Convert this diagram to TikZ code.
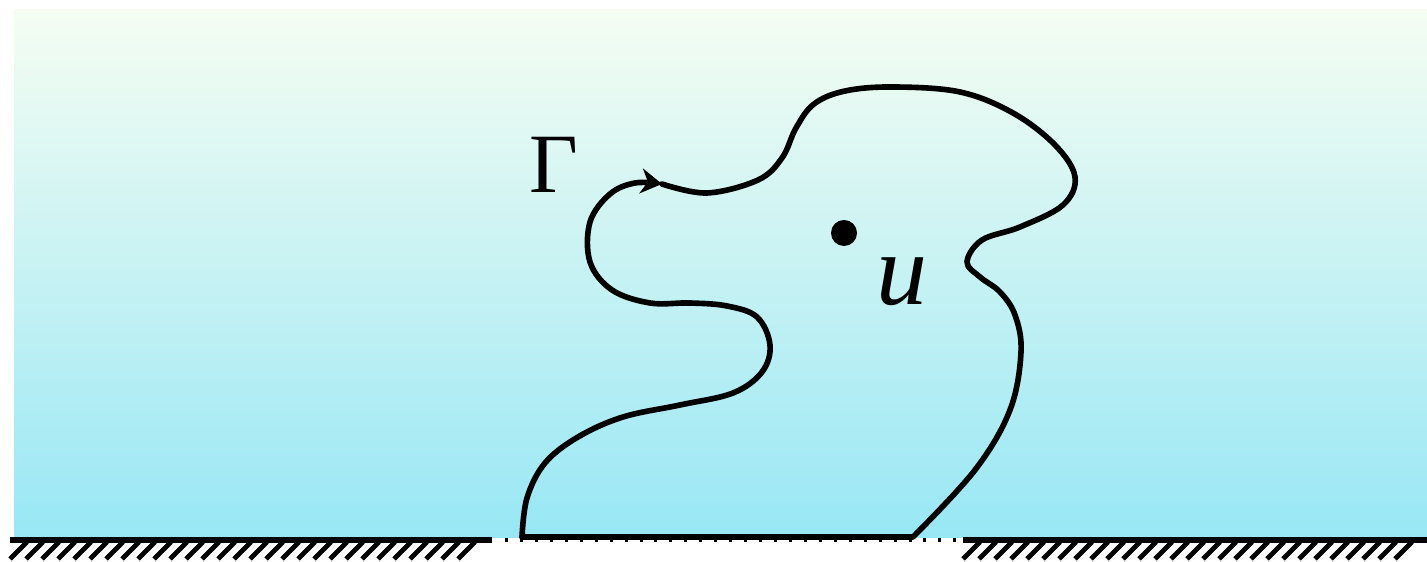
\documentclass[tikz,border=0pt]{standalone}
\usepackage{fontspec}
\setmainfont{Liberation Serif}
\usetikzlibrary{arrows,arrows.meta,shapes}
\definecolor{skytop}{HTML}{F5FDF2}
\definecolor{skybot}{HTML}{98E7F5}
\tikzset{
contour/.style={line width=1.6pt,line cap=round,line join=round},
ground/.style={line width=1.8pt},
hatch/.style={line width=1.4pt},
gapline/.style={line width=1.4pt,dash pattern=on 0.85pt off 3.4pt},
dotmark/.style={circle,fill=black,inner sep=0pt,minimum size=0.26cm},
lbl/.style={inner sep=0pt}
}
\begin{document}
\begin{tikzpicture}[x=0.01cm,y=-0.01cm]
\useasboundingbox (0,0) rectangle (1427,562);
\shade[top color=skytop,bottom color=skybot] (14,10) rectangle (1427,538);
\draw[ground] (10,540)--(492,540) (963,540)--(1427,540);
\draw[gapline] (505,540)--(963,540);
\foreach \x in {10,26,...,458} \draw[hatch] (\x,559)--++(17,-17);
\foreach \x in {963,979,...,1395} \draw[hatch] (\x,559)--++(17,-17);
\draw[contour,-{Stealth[length=0.21cm,width=0.25cm]}] plot[smooth,tension=0.6] coordinates
{(522,537) (527,498) (545,463) (578,437) (623,417) (680,405) (733,393) (762,372) (770,345) (757,317) (727,306) (690,303) (650,303) (612,290) (590,262) (590,222) (610,194) (635,183) (662,184)};
\draw[contour] plot[smooth,tension=0.6] coordinates
{(662,184) (707,193) (758,180) (782,158) (796,128) (814,104) (845,91) (893,87) (960,92) (1013,113) (1055,145) (1075,177) (1063,205) (1020,227) (982,240) (967,262) (980,277) (1000,292) (1015,315) (1021,352) (1010,410) (975,470) (913,537)} -- (522,537);
\node[dotmark] (pt) at (844,233) {};
\node[lbl,font=\fontsize{29}{29}\selectfont\itshape] (ulab) at (902,282) {u};
\node[lbl,font=\fontsize{24}{24}\selectfont] (gam) at (554,165) {Γ};
\end{tikzpicture}
\end{document}
